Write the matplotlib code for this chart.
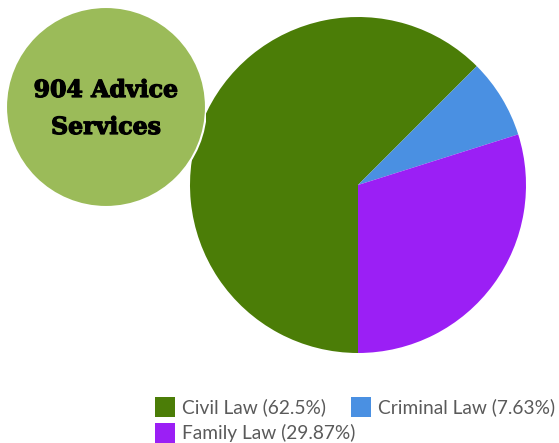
import matplotlib
matplotlib.use("Agg")
import matplotlib.pyplot as plt
from matplotlib.patches import Circle, Rectangle
import matplotlib.patheffects as pe

categories = ["Civil Law", "Criminal Law", "Family Law"]
values = [62.5, 7.63, 29.87]
colors = ["#4b7d07", "#4a90e2", "#9b1ff5"]
title_lines = ["904 Advice", "Services"]

W, H = 559, 443
fig = plt.figure(figsize=(W / 100, H / 100), dpi=100)

# pie axes
cx, cy, r = 358, 185, 168
ax = fig.add_axes([(cx - r) / W, (H - cy - r) / H, 2 * r / W, 2 * r / H])
wedges, _ = ax.pie(values, colors=colors, startangle=-90, counterclock=False,
                   radius=1, wedgeprops=dict(linewidth=0))
ax.set_xlim(-1, 1)
ax.set_ylim(-1, 1)
ax.set_aspect("equal")
ax.axis("off")

# overlay circle
ccx, ccy, cr = 106, 107, 100
ax2 = fig.add_axes([(ccx - cr) / W, (H - ccy - cr) / H, 2 * cr / W, 2 * cr / H])
ax2.set_xlim(-1, 1)
ax2.set_ylim(-1, 1)
ax2.set_aspect("equal")
ax2.axis("off")
ax2.add_patch(Circle((0, 0), 1, facecolor="#9bbb59", edgecolor="white", linewidth=1.5))
stroke = [pe.withStroke(linewidth=0.9, foreground="black")]
ax2.text(0, 0.17, title_lines[0], ha="center", va="center", fontsize=17,
         fontweight="bold", family="DejaVu Serif", color="black", path_effects=stroke)
ax2.text(0, -0.2, title_lines[1], ha="center", va="center", fontsize=17,
         fontweight="bold", family="DejaVu Serif", color="black", path_effects=stroke)

# flowing legend (pixel layout, top-left origin)
labels = [f"{c} ({v}%)" for c, v in zip(categories, values)]
renderer = fig.canvas.get_renderer()
x0, x, row_y = 155, 155, 407
sq, gap_t, gap_i, row_h, xmax = 20, 7, 25, 26, 557
for lab, col in zip(labels, colors):
    t = fig.text(0, 0, lab, family="Lato", fontsize=13.8, color="#5a5a5a",
                 va="center")
    tw = t.get_window_extent(renderer).width
    if x + sq + gap_t + tw > xmax and x > x0:
        x = x0
        row_y += row_h
    fig.patches.append(Rectangle((x / W, (H - row_y - sq / 2) / H), sq / W, sq / H,
                                 transform=fig.transFigure, facecolor=col,
                                 edgecolor="none"))
    t.set_position(((x + sq + gap_t) / W, (H - row_y) / H))
    x += sq + gap_t + tw + gap_i

fig.savefig("out.png", dpi=100)
